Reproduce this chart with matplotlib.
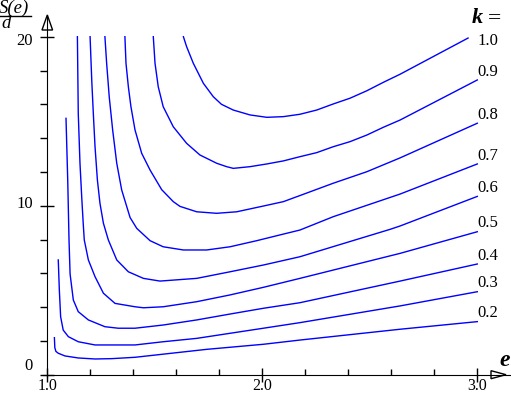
import matplotlib
matplotlib.use("Agg")
import matplotlib.pyplot as plt
from matplotlib.ticker import FixedLocator
from matplotlib.patches import Polygon

# values, one curve per k
k_labels = ["0.2", "0.3", "0.4", "0.5", "0.6", "0.7", "0.8", "0.9", "1.0"]

e_k02 = [1.033, 1.035, 1.040, 1.051, 1.082, 1.144, 1.222, 1.300, 1.408, 1.741, 2.005, 2.175, 2.641, 3.0]
s_k02 = [2.19, 1.60, 1.38, 1.27, 1.11, 0.99, 0.93, 0.95, 1.03, 1.50, 1.80, 2.05, 2.69, 3.14]

e_k03 = [1.051, 1.056, 1.062, 1.074, 1.098, 1.144, 1.222, 1.408, 1.539, 1.695, 1.850, 2.005, 2.175, 2.641, 3.0]
s_k03 = [6.79, 5.01, 3.43, 2.64, 2.25, 1.95, 1.76, 1.76, 1.95, 2.15, 2.45, 2.75, 3.08, 4.07, 4.91]

e_k04 = [1.087, 1.095, 1.101, 1.106, 1.121, 1.144, 1.191, 1.268, 1.330, 1.408, 1.539, 1.695, 1.850, 2.005, 2.175, 2.641, 3.0]
s_k04 = [15.17, 11.52, 7.97, 5.96, 4.42, 3.73, 3.24, 2.84, 2.75, 2.75, 2.94, 3.24, 3.59, 3.93, 4.26, 5.54, 6.55]

e_k05 = [1.140, 1.144, 1.152, 1.160, 1.167, 1.172, 1.191, 1.222, 1.261, 1.315, 1.408, 1.447, 1.539, 1.695, 1.850, 2.005, 2.175, 2.641, 3.0]
s_k05 = [20.0, 15.47, 12.51, 10.53, 8.96, 7.97, 6.79, 5.80, 4.82, 4.22, 4.02, 3.96, 4.02, 4.32, 4.72, 5.17, 5.70, 7.18, 8.46]

e_k06 = [1.199, 1.207, 1.214, 1.222, 1.233, 1.245, 1.261, 1.284, 1.323, 1.377, 1.447, 1.524, 1.695, 1.850, 2.005, 2.175, 2.594, 2.641, 3.0]
s_k06 = [20.0, 17.34, 15.47, 13.49, 11.52, 10.14, 8.96, 7.97, 6.79, 6.09, 5.70, 5.54, 5.70, 6.09, 6.49, 6.98, 8.60, 8.80, 10.55]

e_k07 = [1.268, 1.276, 1.288, 1.304, 1.323, 1.346, 1.385, 1.416, 1.478, 1.539, 1.633, 1.741, 1.850, 1.974, 2.082, 2.175, 2.330, 2.641, 3.0]
s_k07 = [20.0, 18.43, 16.45, 14.48, 12.51, 10.93, 9.30, 8.66, 7.93, 7.57, 7.38, 7.38, 7.57, 7.93, 8.27, 8.56, 9.35, 10.69, 12.47]

e_k08 = [1.361, 1.366, 1.377, 1.389, 1.408, 1.439, 1.478, 1.532, 1.586, 1.617, 1.695, 1.788, 1.881, 2.005, 2.098, 2.175, 2.330, 2.486, 2.641, 3.0]
s_k08 = [20.0, 18.43, 17.04, 15.86, 14.48, 13.10, 12.11, 10.95, 10.24, 9.96, 9.64, 9.55, 9.64, 9.98, 10.24, 10.60, 11.33, 12.01, 12.83, 14.88]

e_k09 = [1.493, 1.501, 1.516, 1.539, 1.586, 1.648, 1.710, 1.788, 1.834, 1.865, 1.943, 2.021, 2.098, 2.175, 2.253, 2.330, 2.408, 2.486, 2.563, 2.641, 3.0]
s_k09 = [20.0, 18.43, 17.04, 15.86, 14.67, 13.69, 13.0, 12.51, 12.31, 12.21, 12.31, 12.47, 12.65, 12.90, 13.14, 13.49, 13.79, 14.18, 14.64, 15.07, 17.44]

e_k10 = [1.633, 1.648, 1.679, 1.726, 1.772, 1.810, 1.865, 1.943, 2.021, 2.098, 2.175, 2.253, 2.330, 2.408, 2.486, 2.563, 2.641, 2.957]
s_k10 = [20.0, 19.41, 18.43, 17.24, 16.45, 16.00, 15.66, 15.37, 15.23, 15.27, 15.41, 15.66, 16.02, 16.36, 16.80, 17.30, 17.78, 19.92]

curves = [
    (k_labels[0], e_k02, s_k02),
    (k_labels[1], e_k03, s_k03),
    (k_labels[2], e_k04, s_k04),
    (k_labels[3], e_k05, s_k05),
    (k_labels[4], e_k06, s_k06),
    (k_labels[5], e_k07, s_k07),
    (k_labels[6], e_k08, s_k08),
    (k_labels[7], e_k09, s_k09),
    (k_labels[8], e_k10, s_k10),
]

W, H = 511, 395
SERIF = "Liberation Serif"


def px(x, y):
    # pixel position (from top-left) -> figure fraction
    return x / W, 1 - y / H


fig = plt.figure(figsize=(W / 100, H / 100), dpi=100)
x0, y0 = 47.3, 374.7          # pixel of e=1.0, S/d=0
ax = fig.add_axes([x0 / W, 1 - y0 / H, (W - x0) / W, y0 / H])
ax.patch.set_alpha(0)

for lab, e, s in curves:
    ax.plot(e, s, color="#0000ff", lw=1.0)
    if e[-1] < 3.0:
        ly = s[-1] - 0.15
    else:
        ly = s[-1] + 0.5
    ax.text(3.0, ly, lab, ha="left", va="center", fontsize=12, family=SERIF)

ax.set_xlim(1.0, 1 + (W - x0) / 215)
ax.set_ylim(0, y0 / 16.9)

ax.spines["top"].set_visible(False)
ax.spines["right"].set_visible(False)
ax.spines["left"].set_bounds(-0.15, 21.28)
ax.spines["bottom"].set_bounds(0.979, 1 + (W - x0) / 215)

ax.set_xticks([1.0, 2.0, 3.0])
ax.set_xticklabels([])
ax.xaxis.set_minor_locator(FixedLocator([1.2, 1.4, 1.6, 1.8, 2.2, 2.4, 2.6, 2.8]))
ax.set_yticks([0, 10, 20])
ax.set_yticklabels([])
ax.yaxis.set_minor_locator(FixedLocator([2, 4, 6, 8, 12, 14, 16, 18]))
ax.tick_params(which="major", direction="inout", length=10, width=1)
ax.tick_params(axis="x", which="minor", direction="in", length=4.5, width=1)
ax.tick_params(axis="y", which="minor", direction="out", length=5, width=1)

# tick labels, placed like the reference (kept inside the canvas)
for txt, xx in [("1.0", 48), ("2.0", 262.3), ("3.0", 477.3)]:
    fig.text(*px(xx, 394.5), txt, ha="center", va="bottom", fontsize=11.5, family=SERIF)
for txt, yy in [("20", 41), ("10", 204), ("0", 366)]:
    fig.text(*px(33, yy), txt, ha="right", va="center", fontsize=12, family=SERIF)

# open arrow heads on the axes
fig.patches.append(Polygon([px(47.3, 15), px(42, 30), px(52.6, 30)], closed=True,
                           fill=False, edgecolor="black", lw=1,
                           transform=fig.transFigure, figure=fig))
fig.patches.append(Polygon([px(506, 374.7), px(491, 370.7), px(491, 378.7)], closed=True,
                           fill=False, edgecolor="black", lw=1,
                           transform=fig.transFigure, figure=fig))

# axis titles
fig.text(*px(-1, 8), "S(e)", ha="left", va="center", fontsize=13.5, style="italic", family=SERIF)
fig.add_artist(plt.Line2D([0, 31 / W], [1 - 15.5 / H, 1 - 15.5 / H], color="black", lw=1))
fig.text(*px(1, 24), "d", ha="left", va="center", fontsize=13.5, style="italic", family=SERIF)
fig.text(*px(472, 18), "k", ha="left", va="center", fontsize=16, style="italic",
         weight="bold", family=SERIF)
fig.text(*px(488, 19), "=", ha="left", va="center", fontsize=17, family=SERIF)
fig.text(*px(499, 360), "e", ha="left", va="center", fontsize=17, style="italic",
         weight="bold", family=SERIF)

fig.savefig("out.png", dpi=100)
